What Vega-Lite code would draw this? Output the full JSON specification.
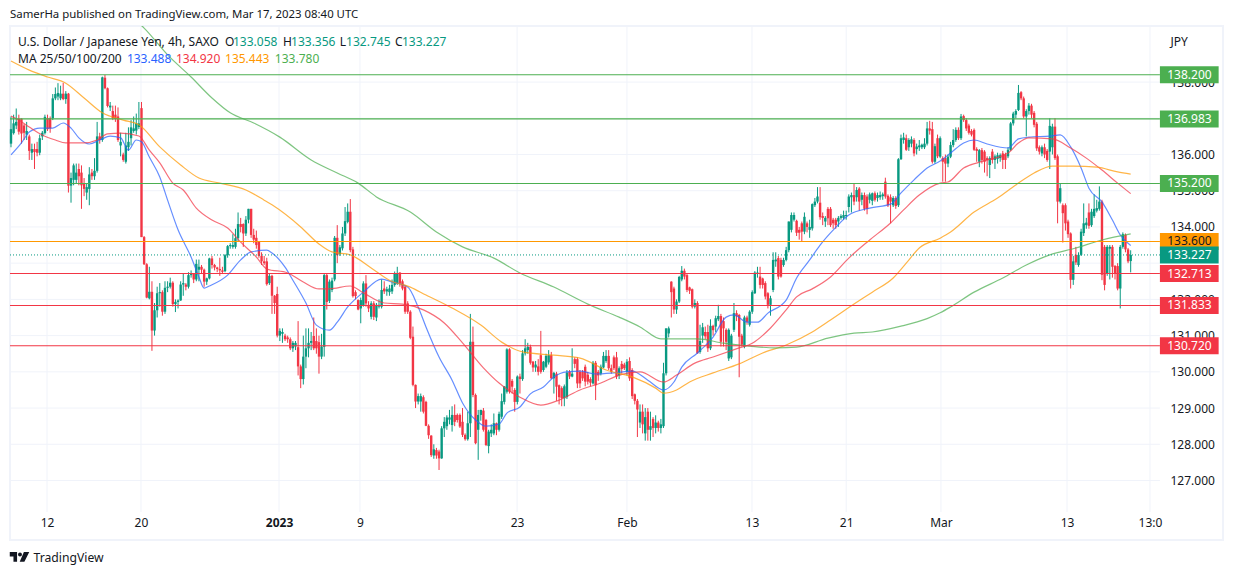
{"$schema":"https://vega.github.io/schema/vega-lite/v6.json","description":"USD/JPY 4h candles with moving averages and support/resistance levels","autosize":"none","width":1213,"height":514,"padding":{"left":10,"top":26,"right":11,"bottom":35},"background":"white","view":{"stroke":"#f0f3fa","strokeWidth":2},"config":{"font":"Noto Sans","text":{"font":"Noto Sans","fontSize":12,"color":"#131722"}},"title":{"text":"SamerHa published on TradingView.com, Mar 17, 2023 08:40 UTC","anchor":"start","frame":"group","offset":5,"fontSize":11.4,"fontWeight":"normal","color":"#131722","font":"Noto Sans"},"datasets":{"candles":[
{"i":0,"o":136.3,"h":137.05,"l":136.2,"c":136.7},{"i":1,"o":136.59,"h":137.1,"l":136.55,"c":136.86},{"i":2,"o":136.8,"h":137.27,"l":136.7,"c":136.9},{"i":3,"o":136.99,"h":137.1,"l":136.55,"c":136.63},{"i":4,"o":136.99,"h":137.0,"l":136.3,"c":136.58},{"i":5,"o":136.8,"h":136.85,"l":136.4,"c":136.6},{"i":6,"o":136.55,"h":136.9,"l":136.4,"c":136.65},{"i":7,"o":136.5,"h":136.55,"l":135.85,"c":136.1},{"i":8,"o":136.05,"h":136.3,"l":135.85,"c":136.15},{"i":9,"o":136.15,"h":136.3,"l":135.6,"c":136.07},
{"i":10,"o":136.15,"h":136.35,"l":135.95,"c":136.05},{"i":11,"o":136.05,"h":136.55,"l":135.98,"c":136.45},{"i":12,"o":136.5,"h":136.65,"l":136.4,"c":136.6},{"i":13,"o":136.59,"h":137.1,"l":136.55,"c":137.04},{"i":14,"o":137.0,"h":137.1,"l":136.65,"c":136.7},{"i":15,"o":137.0,"h":137.05,"l":136.6,"c":136.72},{"i":16,"o":137.0,"h":137.67,"l":136.95,"c":137.55},{"i":17,"o":137.55,"h":137.85,"l":137.5,"c":137.67},{"i":18,"o":137.6,"h":137.97,"l":137.5,"c":137.7},{"i":19,"o":137.55,"h":137.9,"l":137.5,"c":137.68},
{"i":20,"o":137.68,"h":137.98,"l":137.5,"c":137.53},{"i":21,"o":137.53,"h":137.75,"l":137.4,"c":137.68},{"i":22,"o":137.68,"h":137.7,"l":134.95,"c":135.14},{"i":23,"o":135.14,"h":135.5,"l":134.67,"c":135.35},{"i":24,"o":135.3,"h":135.75,"l":135.15,"c":135.7},{"i":25,"o":135.3,"h":135.75,"l":135.2,"c":135.5},{"i":26,"o":135.6,"h":135.75,"l":135.15,"c":135.4},{"i":27,"o":135.5,"h":135.7,"l":134.5,"c":135.15},{"i":28,"o":135.2,"h":135.35,"l":134.85,"c":135.05},{"i":29,"o":134.95,"h":135.2,"l":134.75,"c":135.1},
{"i":30,"o":135.05,"h":135.65,"l":134.6,"c":135.45},{"i":31,"o":135.5,"h":135.6,"l":135.3,"c":135.4},{"i":32,"o":135.4,"h":135.9,"l":135.3,"c":135.55},{"i":33,"o":135.55,"h":136.9,"l":135.5,"c":136.5},{"i":34,"o":136.5,"h":136.6,"l":136.3,"c":136.4},{"i":35,"o":136.4,"h":138.15,"l":136.35,"c":138.13},{"i":36,"o":138.12,"h":138.2,"l":137.8,"c":137.83},{"i":37,"o":137.83,"h":137.85,"l":137.3,"c":137.34},{"i":38,"o":137.3,"h":137.45,"l":137.2,"c":137.35},{"i":39,"o":137.2,"h":137.35,"l":136.95,"c":137.0},
{"i":40,"o":137.1,"h":137.35,"l":136.9,"c":136.98},{"i":41,"o":137.05,"h":137.3,"l":136.35,"c":136.4},{"i":42,"o":136.25,"h":136.6,"l":135.95,"c":136.35},{"i":43,"o":136.0,"h":136.05,"l":135.8,"c":135.85},{"i":44,"o":135.8,"h":136.6,"l":135.75,"c":136.25},{"i":45,"o":136.2,"h":136.75,"l":136.1,"c":136.35},{"i":46,"o":136.45,"h":136.95,"l":136.25,"c":136.75},{"i":47,"o":136.65,"h":137.05,"l":136.6,"c":136.72},{"i":48,"o":136.66,"h":137.13,"l":136.55,"c":136.86},{"i":49,"o":136.76,"h":137.45,"l":136.7,"c":136.86},
{"i":50,"o":137.28,"h":137.45,"l":133.72,"c":133.72},{"i":51,"o":133.72,"h":133.75,"l":132.95,"c":132.97},{"i":52,"o":132.97,"h":133.0,"l":132.03,"c":132.05},{"i":53,"o":132.03,"h":132.9,"l":132.0,"c":132.21},{"i":54,"o":132.21,"h":132.5,"l":130.58,"c":131.14},{"i":55,"o":131.14,"h":131.9,"l":131.0,"c":131.7},{"i":56,"o":131.7,"h":132.35,"l":131.5,"c":132.17},{"i":57,"o":132.17,"h":132.45,"l":131.8,"c":132.2},{"i":58,"o":132.2,"h":132.25,"l":131.55,"c":131.66},{"i":59,"o":131.66,"h":132.5,"l":131.6,"c":132.32},
{"i":60,"o":132.32,"h":132.5,"l":132.2,"c":132.35},{"i":61,"o":132.35,"h":132.6,"l":132.3,"c":132.46},{"i":62,"o":132.46,"h":132.5,"l":131.8,"c":131.87},{"i":63,"o":131.87,"h":132.0,"l":131.65,"c":131.93},{"i":64,"o":131.93,"h":132.0,"l":131.75,"c":131.97},{"i":65,"o":131.97,"h":132.5,"l":131.96,"c":132.41},{"i":66,"o":132.41,"h":132.72,"l":132.1,"c":132.45},{"i":67,"o":132.41,"h":132.45,"l":132.25,"c":132.35},{"i":68,"o":132.35,"h":132.75,"l":132.3,"c":132.67},{"i":69,"o":132.67,"h":132.8,"l":132.6,"c":132.7},
{"i":70,"o":132.7,"h":132.72,"l":132.45,"c":132.55},{"i":71,"o":132.55,"h":133.1,"l":132.5,"c":132.98},{"i":72,"o":132.82,"h":133.1,"l":132.5,"c":132.9},{"i":73,"o":132.9,"h":132.95,"l":132.7,"c":132.82},{"i":74,"o":132.82,"h":132.85,"l":132.35,"c":132.49},{"i":75,"o":132.49,"h":132.6,"l":132.4,"c":132.58},{"i":76,"o":132.58,"h":133.15,"l":132.55,"c":133.13},{"i":77,"o":133.13,"h":133.2,"l":132.85,"c":132.95},{"i":78,"o":132.95,"h":132.98,"l":132.8,"c":132.88},{"i":79,"o":132.88,"h":132.9,"l":132.75,"c":132.84},
{"i":80,"o":132.84,"h":133.15,"l":132.65,"c":132.8},{"i":81,"o":132.8,"h":132.9,"l":132.7,"c":132.76},{"i":82,"o":132.78,"h":133.25,"l":132.75,"c":133.22},{"i":83,"o":133.22,"h":133.5,"l":133.15,"c":133.47},{"i":84,"o":133.47,"h":133.55,"l":133.4,"c":133.5},{"i":85,"o":133.45,"h":133.8,"l":133.4,"c":133.5},{"i":86,"o":133.45,"h":133.95,"l":133.4,"c":133.69},{"i":87,"o":133.69,"h":134.4,"l":133.6,"c":134.08},{"i":88,"o":134.08,"h":134.25,"l":133.85,"c":134.0},{"i":89,"o":134.08,"h":134.1,"l":133.45,"c":133.82},
{"i":90,"o":133.82,"h":134.3,"l":133.75,"c":134.2},{"i":91,"o":134.2,"h":134.5,"l":134.1,"c":134.5},{"i":92,"o":134.5,"h":134.5,"l":133.7,"c":133.78},{"i":93,"o":133.78,"h":133.95,"l":133.55,"c":133.65},{"i":94,"o":133.7,"h":133.9,"l":133.4,"c":133.5},{"i":95,"o":133.6,"h":133.6,"l":133.15,"c":133.2},{"i":96,"o":133.2,"h":133.3,"l":132.95,"c":133.05},{"i":97,"o":133.05,"h":133.2,"l":132.95,"c":133.0},{"i":98,"o":133.05,"h":133.15,"l":132.38,"c":132.42},{"i":99,"o":132.45,"h":132.7,"l":132.4,"c":132.65},
{"i":100,"o":132.65,"h":132.68,"l":131.6,"c":132.1},{"i":101,"o":132.1,"h":132.12,"l":131.6,"c":131.9},{"i":102,"o":132.15,"h":132.35,"l":130.95,"c":131.0},{"i":103,"o":131.0,"h":131.2,"l":130.85,"c":131.13},{"i":104,"o":131.05,"h":131.2,"l":130.8,"c":131.1},{"i":105,"o":131.0,"h":131.05,"l":130.85,"c":130.9},{"i":106,"o":130.95,"h":131.0,"l":130.8,"c":130.9},{"i":107,"o":130.9,"h":130.95,"l":130.6,"c":130.65},{"i":108,"o":130.65,"h":130.85,"l":130.55,"c":130.8},{"i":109,"o":130.7,"h":130.85,"l":130.6,"c":130.8},
{"i":110,"o":130.68,"h":131.4,"l":129.9,"c":130.15},{"i":111,"o":130.15,"h":130.2,"l":129.55,"c":129.8},{"i":112,"o":129.8,"h":131.0,"l":129.65,"c":130.42},{"i":113,"o":130.42,"h":131.2,"l":130.1,"c":130.65},{"i":114,"o":130.65,"h":131.2,"l":130.4,"c":130.8},{"i":115,"o":130.8,"h":131.1,"l":130.6,"c":130.85},{"i":116,"o":130.99,"h":131.5,"l":130.6,"c":130.65},{"i":117,"o":130.85,"h":131.2,"l":130.5,"c":130.65},{"i":118,"o":130.82,"h":131.0,"l":129.95,"c":130.42},{"i":119,"o":130.42,"h":131.05,"l":130.35,"c":130.7},
{"i":120,"o":130.69,"h":132.72,"l":130.42,"c":132.67},{"i":121,"o":132.67,"h":132.72,"l":131.72,"c":131.93},{"i":122,"o":131.96,"h":132.55,"l":131.9,"c":132.49},{"i":123,"o":132.26,"h":132.6,"l":132.2,"c":132.52},{"i":124,"o":132.55,"h":133.75,"l":132.5,"c":133.7},{"i":125,"o":133.7,"h":134.05,"l":133.0,"c":133.22},{"i":126,"o":133.25,"h":133.5,"l":133.2,"c":133.44},{"i":127,"o":133.41,"h":134.0,"l":133.35,"c":133.82},{"i":128,"o":133.82,"h":134.55,"l":133.75,"c":134.16},{"i":129,"o":134.14,"h":134.65,"l":134.1,"c":134.42},
{"i":130,"o":134.42,"h":134.77,"l":133.3,"c":133.36},{"i":131,"o":133.38,"h":133.45,"l":132.05,"c":132.09},{"i":132,"o":132.2,"h":132.25,"l":132.0,"c":132.09},{"i":133,"o":131.98,"h":132.0,"l":131.7,"c":131.72},{"i":134,"o":131.75,"h":132.05,"l":131.34,"c":131.98},{"i":135,"o":131.84,"h":132.5,"l":131.8,"c":132.44},{"i":136,"o":132.44,"h":132.67,"l":131.8,"c":131.89},{"i":137,"o":131.85,"h":131.95,"l":131.65,"c":131.75},{"i":138,"o":131.52,"h":131.95,"l":131.45,"c":131.89},{"i":139,"o":131.89,"h":131.95,"l":131.43,"c":131.52},
{"i":140,"o":131.5,"h":131.9,"l":131.4,"c":131.85},{"i":141,"o":131.8,"h":132.0,"l":131.75,"c":131.85},{"i":142,"o":131.8,"h":132.55,"l":131.75,"c":132.26},{"i":143,"o":132.3,"h":132.5,"l":132.15,"c":132.22},{"i":144,"o":132.22,"h":132.35,"l":132.1,"c":132.28},{"i":145,"o":132.2,"h":132.4,"l":132.1,"c":132.3},{"i":146,"o":132.22,"h":132.55,"l":132.15,"c":132.4},{"i":147,"o":132.4,"h":132.77,"l":132.35,"c":132.72},{"i":148,"o":132.44,"h":132.9,"l":132.4,"c":132.72},{"i":149,"o":132.74,"h":132.75,"l":132.35,"c":132.44},
{"i":150,"o":132.5,"h":132.55,"l":132.25,"c":132.3},{"i":151,"o":132.35,"h":132.4,"l":131.6,"c":131.66},{"i":152,"o":131.89,"h":131.95,"l":131.6,"c":131.66},{"i":153,"o":131.66,"h":131.7,"l":130.9,"c":130.94},{"i":154,"o":130.97,"h":131.25,"l":129.6,"c":129.64},{"i":155,"o":129.64,"h":129.65,"l":129.0,"c":129.18},{"i":156,"o":129.18,"h":129.4,"l":129.1,"c":129.33},{"i":157,"o":129.18,"h":129.4,"l":128.9,"c":129.33},{"i":158,"o":129.3,"h":129.35,"l":128.85,"c":128.9},{"i":159,"o":129.17,"h":129.2,"l":128.5,"c":128.51},
{"i":160,"o":128.51,"h":128.55,"l":128.15,"c":128.25},{"i":161,"o":128.24,"h":128.25,"l":127.65,"c":127.7},{"i":162,"o":127.69,"h":128.0,"l":127.6,"c":127.86},{"i":163,"o":127.84,"h":127.9,"l":127.6,"c":127.69},{"i":164,"o":127.8,"h":127.85,"l":127.29,"c":127.61},{"i":165,"o":127.61,"h":128.5,"l":127.6,"c":128.44},{"i":166,"o":128.44,"h":128.75,"l":128.2,"c":128.62},{"i":167,"o":128.5,"h":128.8,"l":128.4,"c":128.74},{"i":168,"o":128.68,"h":128.95,"l":128.55,"c":128.74},{"i":169,"o":128.53,"h":129.05,"l":128.35,"c":128.81},
{"i":170,"o":128.81,"h":129.1,"l":128.5,"c":128.62},{"i":171,"o":128.81,"h":128.85,"l":128.6,"c":128.67},{"i":172,"o":128.81,"h":128.85,"l":128.45,"c":128.49},{"i":173,"o":128.62,"h":129.0,"l":128.2,"c":128.26},{"i":174,"o":128.26,"h":128.3,"l":128.1,"c":128.14},{"i":175,"o":128.14,"h":128.9,"l":128.1,"c":128.58},{"i":176,"o":128.58,"h":131.6,"l":128.2,"c":130.83},{"i":177,"o":130.83,"h":131.25,"l":129.3,"c":129.36},{"i":178,"o":129.36,"h":129.4,"l":128.0,"c":128.03},{"i":179,"o":128.4,"h":128.95,"l":127.57,"c":128.81},
{"i":180,"o":128.81,"h":128.95,"l":128.65,"c":128.95},{"i":181,"o":128.93,"h":129.0,"l":128.35,"c":128.4},{"i":182,"o":128.67,"h":128.7,"l":127.95,"c":127.98},{"i":183,"o":127.95,"h":128.4,"l":127.75,"c":128.35},{"i":184,"o":128.3,"h":128.55,"l":128.2,"c":128.4},{"i":185,"o":128.3,"h":128.85,"l":128.25,"c":128.58},{"i":186,"o":128.58,"h":128.6,"l":128.25,"c":128.4},{"i":187,"o":128.4,"h":128.9,"l":128.35,"c":128.84},{"i":188,"o":128.76,"h":129.4,"l":128.7,"c":129.19},{"i":189,"o":129.17,"h":129.6,"l":129.1,"c":129.6},
{"i":190,"o":129.45,"h":130.65,"l":129.4,"c":130.62},{"i":191,"o":130.62,"h":130.65,"l":129.4,"c":129.45},{"i":192,"o":129.75,"h":129.8,"l":129.4,"c":129.59},{"i":193,"o":129.5,"h":129.55,"l":128.9,"c":129.17},{"i":194,"o":129.17,"h":129.9,"l":129.1,"c":129.87},{"i":195,"o":129.87,"h":129.95,"l":129.4,"c":129.8},{"i":196,"o":129.8,"h":130.6,"l":129.75,"c":130.51},{"i":197,"o":130.51,"h":130.9,"l":130.45,"c":130.65},{"i":198,"o":130.6,"h":130.8,"l":130.5,"c":130.69},{"i":199,"o":130.69,"h":130.75,"l":130.2,"c":130.25},
{"i":200,"o":130.28,"h":130.3,"l":130.0,"c":130.12},{"i":201,"o":130.12,"h":130.3,"l":130.0,"c":130.2},{"i":202,"o":130.15,"h":130.35,"l":129.9,"c":130.0},{"i":203,"o":130.46,"h":131.13,"l":129.95,"c":130.0},{"i":204,"o":130.05,"h":130.3,"l":130.0,"c":130.28},{"i":205,"o":130.14,"h":130.5,"l":130.1,"c":130.44},{"i":206,"o":130.26,"h":130.6,"l":130.2,"c":130.46},{"i":207,"o":130.46,"h":130.55,"l":129.8,"c":129.82},{"i":208,"o":129.82,"h":130.0,"l":129.4,"c":129.97},{"i":209,"o":129.95,"h":130.0,"l":129.2,"c":129.59},
{"i":210,"o":129.63,"h":129.65,"l":129.1,"c":129.3},{"i":211,"o":129.55,"h":129.6,"l":129.05,"c":129.27},{"i":212,"o":129.27,"h":129.65,"l":129.05,"c":129.6},{"i":213,"o":129.3,"h":130.05,"l":129.25,"c":129.98},{"i":214,"o":130.0,"h":130.05,"l":129.8,"c":129.87},{"i":215,"o":129.87,"h":130.65,"l":129.85,"c":129.95},{"i":216,"o":130.35,"h":130.4,"l":130.1,"c":130.22},{"i":217,"o":130.35,"h":130.4,"l":129.55,"c":129.68},{"i":218,"o":130.0,"h":130.05,"l":129.55,"c":129.68},{"i":219,"o":130.0,"h":130.05,"l":129.75,"c":129.82},
{"i":220,"o":130.14,"h":130.2,"l":129.6,"c":129.73},{"i":221,"o":129.92,"h":130.0,"l":129.65,"c":129.73},{"i":222,"o":129.8,"h":129.85,"l":129.6,"c":129.7},{"i":223,"o":129.68,"h":130.3,"l":129.65,"c":130.25},{"i":224,"o":130.25,"h":130.3,"l":129.22,"c":129.63},{"i":225,"o":130.0,"h":130.05,"l":129.75,"c":129.9},{"i":226,"o":129.95,"h":130.2,"l":129.9,"c":130.14},{"i":227,"o":130.12,"h":130.55,"l":130.1,"c":130.44},{"i":228,"o":130.3,"h":130.6,"l":130.25,"c":130.44},{"i":229,"o":130.44,"h":130.6,"l":130.05,"c":130.1},
{"i":230,"o":130.1,"h":130.2,"l":129.95,"c":130.0},{"i":231,"o":130.4,"h":130.45,"l":130.05,"c":130.1},{"i":232,"o":130.4,"h":130.55,"l":129.8,"c":129.87},{"i":233,"o":129.9,"h":130.15,"l":129.8,"c":130.1},{"i":234,"o":130.22,"h":130.3,"l":129.95,"c":130.08},{"i":235,"o":130.2,"h":130.25,"l":130.05,"c":130.1},{"i":236,"o":130.0,"h":130.35,"l":129.9,"c":130.28},{"i":237,"o":130.3,"h":130.4,"l":129.75,"c":129.82},{"i":238,"o":130.05,"h":130.1,"l":129.25,"c":129.33},{"i":239,"o":129.38,"h":129.4,"l":129.1,"c":129.2},
{"i":240,"o":129.2,"h":129.25,"l":128.2,"c":128.96},{"i":241,"o":128.6,"h":129.1,"l":128.45,"c":128.9},{"i":242,"o":128.9,"h":129.1,"l":128.3,"c":128.55},{"i":243,"o":128.3,"h":129.0,"l":128.1,"c":128.75},{"i":244,"o":128.9,"h":129.0,"l":128.1,"c":128.4},{"i":245,"o":128.4,"h":128.9,"l":128.1,"c":128.5},{"i":246,"o":128.7,"h":128.75,"l":128.2,"c":128.45},{"i":247,"o":128.45,"h":128.8,"l":128.3,"c":128.6},{"i":248,"o":128.6,"h":128.65,"l":128.35,"c":128.45},{"i":249,"o":128.45,"h":128.7,"l":128.3,"c":128.55},
{"i":250,"o":128.5,"h":130.25,"l":128.45,"c":129.96},{"i":251,"o":129.96,"h":131.2,"l":129.9,"c":131.2},{"i":252,"o":131.06,"h":131.25,"l":130.95,"c":131.2},{"i":253,"o":132.49,"h":132.5,"l":131.5,"c":132.2},{"i":254,"o":132.3,"h":132.35,"l":131.6,"c":131.72},{"i":255,"o":131.72,"h":132.0,"l":131.6,"c":131.94},{"i":256,"o":131.94,"h":132.65,"l":131.9,"c":132.62},{"i":257,"o":132.55,"h":132.92,"l":132.5,"c":132.79},{"i":258,"o":132.79,"h":132.85,"l":132.55,"c":132.63},{"i":259,"o":132.67,"h":132.7,"l":132.2,"c":132.26},
{"i":260,"o":132.33,"h":132.35,"l":132.15,"c":132.24},{"i":261,"o":132.28,"h":132.3,"l":131.75,"c":131.8},{"i":262,"o":131.8,"h":132.0,"l":131.75,"c":131.9},{"i":263,"o":131.9,"h":131.95,"l":130.5,"c":130.51},{"i":264,"o":130.55,"h":131.3,"l":130.5,"c":130.85},{"i":265,"o":131.0,"h":131.35,"l":130.8,"c":131.23},{"i":266,"o":131.1,"h":131.25,"l":130.9,"c":130.98},{"i":267,"o":131.1,"h":131.3,"l":130.55,"c":130.65},{"i":268,"o":130.65,"h":131.45,"l":130.6,"c":131.27},{"i":269,"o":131.27,"h":131.3,"l":131.0,"c":131.15},
{"i":270,"o":131.25,"h":131.55,"l":131.1,"c":131.48},{"i":271,"o":131.45,"h":131.85,"l":131.4,"c":131.54},{"i":272,"o":131.54,"h":131.6,"l":130.7,"c":130.83},{"i":273,"o":131.4,"h":131.5,"l":130.7,"c":131.2},{"i":274,"o":131.16,"h":131.2,"l":130.6,"c":130.83},{"i":275,"o":130.37,"h":131.2,"l":130.3,"c":131.16},{"i":276,"o":130.4,"h":131.05,"l":130.35,"c":131.0},{"i":277,"o":131.16,"h":131.9,"l":131.1,"c":131.62},{"i":278,"o":131.62,"h":131.7,"l":131.4,"c":131.53},{"i":279,"o":131.57,"h":131.6,"l":129.85,"c":130.97},
{"i":280,"o":131.0,"h":131.05,"l":130.7,"c":130.75},{"i":281,"o":130.7,"h":131.55,"l":130.65,"c":131.5},{"i":282,"o":131.5,"h":131.55,"l":131.3,"c":131.38},{"i":283,"o":131.3,"h":131.7,"l":131.25,"c":131.66},{"i":284,"o":131.66,"h":132.25,"l":131.6,"c":132.2},{"i":285,"o":132.17,"h":132.78,"l":132.15,"c":132.74},{"i":286,"o":132.7,"h":132.9,"l":132.6,"c":132.74},{"i":287,"o":132.63,"h":132.9,"l":132.3,"c":132.4},{"i":288,"o":132.58,"h":132.6,"l":132.3,"c":132.4},{"i":289,"o":132.45,"h":132.5,"l":132.0,"c":132.08},
{"i":290,"o":132.17,"h":132.2,"l":131.75,"c":131.85},{"i":291,"o":131.85,"h":132.1,"l":131.55,"c":132.03},{"i":292,"o":132.26,"h":133.3,"l":132.2,"c":133.09},{"i":293,"o":133.05,"h":133.3,"l":132.9,"c":133.1},{"i":294,"o":133.14,"h":133.2,"l":132.55,"c":132.63},{"i":295,"o":133.09,"h":133.15,"l":132.6,"c":132.63},{"i":296,"o":132.95,"h":133.15,"l":132.9,"c":133.09},{"i":297,"o":133.09,"h":133.45,"l":133.05,"c":133.36},{"i":298,"o":133.36,"h":134.15,"l":133.3,"c":134.15},{"i":299,"o":133.92,"h":134.4,"l":133.85,"c":134.33},
{"i":300,"o":134.2,"h":134.4,"l":134.15,"c":134.33},{"i":301,"o":134.17,"h":134.2,"l":133.75,"c":133.84},{"i":302,"o":133.92,"h":134.0,"l":133.65,"c":133.84},{"i":303,"o":134.1,"h":134.15,"l":133.6,"c":133.87},{"i":304,"o":133.87,"h":134.4,"l":133.8,"c":134.28},{"i":305,"o":134.1,"h":134.15,"l":133.85,"c":134.0},{"i":306,"o":133.92,"h":134.2,"l":133.7,"c":134.0},{"i":307,"o":133.96,"h":134.65,"l":133.9,"c":134.63},{"i":308,"o":134.6,"h":134.8,"l":134.55,"c":134.7},{"i":309,"o":134.7,"h":135.1,"l":134.65,"c":134.84},
{"i":310,"o":134.67,"h":135.1,"l":134.2,"c":134.27},{"i":311,"o":134.3,"h":134.4,"l":134.05,"c":134.25},{"i":312,"o":134.15,"h":134.3,"l":134.0,"c":134.25},{"i":313,"o":134.5,"h":134.55,"l":134.05,"c":134.24},{"i":314,"o":134.5,"h":134.55,"l":134.0,"c":134.05},{"i":315,"o":134.2,"h":134.25,"l":133.95,"c":134.1},{"i":316,"o":134.2,"h":134.25,"l":133.95,"c":134.05},{"i":317,"o":134.15,"h":134.3,"l":134.0,"c":134.25},{"i":318,"o":134.25,"h":134.35,"l":134.2,"c":134.3},{"i":319,"o":134.25,"h":134.45,"l":134.2,"c":134.33},
{"i":320,"o":134.3,"h":134.45,"l":134.2,"c":134.33},{"i":321,"o":134.55,"h":134.9,"l":134.4,"c":134.84},{"i":322,"o":134.82,"h":134.95,"l":134.4,"c":134.88},{"i":323,"o":134.88,"h":135.2,"l":134.6,"c":134.7},{"i":324,"o":134.82,"h":135.1,"l":134.7,"c":135.02},{"i":325,"o":135.06,"h":135.1,"l":134.45,"c":134.7},{"i":326,"o":134.75,"h":134.95,"l":134.6,"c":134.88},{"i":327,"o":134.88,"h":134.95,"l":134.45,"c":134.5},{"i":328,"o":134.84,"h":134.9,"l":134.35,"c":134.5},{"i":329,"o":134.75,"h":134.95,"l":134.65,"c":134.9},
{"i":330,"o":134.72,"h":134.95,"l":134.6,"c":134.93},{"i":331,"o":134.93,"h":134.98,"l":134.7,"c":134.75},{"i":332,"o":134.8,"h":134.95,"l":134.7,"c":134.88},{"i":333,"o":134.82,"h":134.98,"l":134.75,"c":134.88},{"i":334,"o":134.85,"h":134.95,"l":134.75,"c":134.9},{"i":335,"o":135.25,"h":135.36,"l":134.78,"c":134.84},{"i":336,"o":134.86,"h":134.9,"l":134.55,"c":134.6},{"i":337,"o":134.82,"h":134.9,"l":134.1,"c":134.7},{"i":338,"o":134.6,"h":134.85,"l":134.55,"c":134.8},{"i":339,"o":134.8,"h":134.85,"l":134.5,"c":134.58},
{"i":340,"o":134.6,"h":135.9,"l":134.55,"c":135.87},{"i":341,"o":135.87,"h":136.55,"l":135.85,"c":136.45},{"i":342,"o":136.4,"h":136.6,"l":136.3,"c":136.47},{"i":343,"o":136.45,"h":136.55,"l":136.1,"c":136.13},{"i":344,"o":136.2,"h":136.45,"l":136.1,"c":136.4},{"i":345,"o":136.3,"h":136.5,"l":136.2,"c":136.42},{"i":346,"o":136.4,"h":136.45,"l":135.95,"c":136.03},{"i":347,"o":136.15,"h":136.3,"l":136.0,"c":136.22},{"i":348,"o":136.2,"h":136.4,"l":136.1,"c":136.25},{"i":349,"o":136.2,"h":136.3,"l":136.15,"c":136.27},
{"i":350,"o":136.2,"h":136.45,"l":136.15,"c":136.3},{"i":351,"o":136.3,"h":136.9,"l":136.25,"c":136.72},{"i":352,"o":136.72,"h":136.93,"l":136.55,"c":136.66},{"i":353,"o":136.7,"h":136.9,"l":135.75,"c":135.8},{"i":354,"o":135.8,"h":136.3,"l":135.75,"c":136.23},{"i":355,"o":136.45,"h":136.55,"l":135.9,"c":135.95},{"i":356,"o":135.94,"h":136.5,"l":135.9,"c":136.45},{"i":357,"o":135.9,"h":135.95,"l":135.25,"c":135.8},{"i":358,"o":135.9,"h":136.0,"l":135.25,"c":135.75},{"i":359,"o":135.75,"h":136.0,"l":135.65,"c":135.94},
{"i":360,"o":135.94,"h":136.35,"l":135.9,"c":136.26},{"i":361,"o":136.26,"h":136.7,"l":136.2,"c":136.4},{"i":362,"o":136.4,"h":136.75,"l":136.35,"c":136.68},{"i":363,"o":136.68,"h":136.75,"l":136.4,"c":136.45},{"i":364,"o":136.45,"h":137.12,"l":136.4,"c":137.05},{"i":365,"o":137.06,"h":137.1,"l":136.9,"c":136.95},{"i":366,"o":136.95,"h":137.0,"l":136.65,"c":136.72},{"i":367,"o":136.8,"h":136.85,"l":136.55,"c":136.6},{"i":368,"o":136.65,"h":136.7,"l":136.5,"c":136.55},{"i":369,"o":136.68,"h":136.72,"l":136.1,"c":136.13},
{"i":370,"o":136.15,"h":136.2,"l":135.8,"c":136.1},{"i":371,"o":135.8,"h":136.15,"l":135.65,"c":136.12},{"i":372,"o":136.12,"h":136.18,"l":135.75,"c":135.85},{"i":373,"o":136.08,"h":136.12,"l":135.5,"c":135.8},{"i":374,"o":135.9,"h":135.95,"l":135.4,"c":135.85},{"i":375,"o":135.71,"h":135.95,"l":135.35,"c":135.9},{"i":376,"o":136.08,"h":136.15,"l":135.75,"c":135.85},{"i":377,"o":135.85,"h":136.0,"l":135.6,"c":135.95},{"i":378,"o":135.88,"h":136.05,"l":135.75,"c":135.98},{"i":379,"o":135.9,"h":136.03,"l":135.8,"c":135.98},
{"i":380,"o":136.03,"h":136.1,"l":135.6,"c":135.85},{"i":381,"o":136.0,"h":136.05,"l":135.6,"c":135.85},{"i":382,"o":135.95,"h":136.2,"l":135.9,"c":136.13},{"i":383,"o":136.13,"h":136.9,"l":136.1,"c":136.86},{"i":384,"o":136.86,"h":137.18,"l":136.8,"c":137.13},{"i":385,"o":137.1,"h":137.25,"l":137.0,"c":137.2},{"i":386,"o":137.23,"h":137.92,"l":137.2,"c":137.7},{"i":387,"o":137.72,"h":137.75,"l":137.5,"c":137.55},{"i":388,"o":137.55,"h":137.6,"l":137.0,"c":137.05},{"i":389,"o":137.05,"h":137.25,"l":136.5,"c":137.2},
{"i":390,"o":137.2,"h":137.42,"l":137.1,"c":137.35},{"i":391,"o":137.35,"h":137.4,"l":137.0,"c":137.1},{"i":392,"o":137.15,"h":137.2,"l":136.75,"c":136.82},{"i":393,"o":136.85,"h":136.9,"l":136.1,"c":136.17},{"i":394,"o":136.2,"h":136.25,"l":136.0,"c":136.08},{"i":395,"o":136.03,"h":136.25,"l":135.95,"c":136.2},{"i":396,"o":136.2,"h":136.3,"l":135.9,"c":136.0},{"i":397,"o":136.1,"h":136.15,"l":135.8,"c":135.85},{"i":398,"o":136.08,"h":137.0,"l":135.6,"c":136.79},{"i":399,"o":136.2,"h":136.85,"l":136.0,"c":136.77},
{"i":400,"o":136.77,"h":137.0,"l":135.85,"c":135.9},{"i":401,"o":135.95,"h":136.0,"l":134.1,"c":134.7},{"i":402,"o":134.7,"h":135.2,"l":134.65,"c":135.07},{"i":403,"o":134.6,"h":134.65,"l":133.57,"c":134.38},{"i":404,"o":134.6,"h":134.65,"l":133.9,"c":134.1},{"i":405,"o":134.15,"h":134.2,"l":133.7,"c":133.8},{"i":406,"o":133.82,"h":133.85,"l":132.3,"c":132.54},{"i":407,"o":132.54,"h":133.2,"l":132.4,"c":133.05},{"i":408,"o":133.23,"h":133.45,"l":132.95,"c":133.02},{"i":409,"o":132.95,"h":133.3,"l":132.9,"c":133.23},
{"i":410,"o":133.23,"h":133.95,"l":133.2,"c":133.87},{"i":411,"o":133.83,"h":134.65,"l":133.75,"c":134.1},{"i":412,"o":134.05,"h":134.25,"l":133.95,"c":134.12},{"i":413,"o":134.4,"h":134.65,"l":133.95,"c":134.03},{"i":414,"o":134.05,"h":134.5,"l":134.0,"c":134.42},{"i":415,"o":134.3,"h":134.9,"l":134.25,"c":134.5},{"i":416,"o":134.45,"h":134.75,"l":134.4,"c":134.52},{"i":417,"o":134.5,"h":135.12,"l":134.45,"c":134.7},{"i":418,"o":134.7,"h":134.75,"l":132.53,"c":132.68},{"i":419,"o":133.45,"h":133.5,"l":132.25,"c":132.4},
{"i":420,"o":132.72,"h":133.5,"l":132.65,"c":133.45},{"i":421,"o":133.4,"h":133.5,"l":132.55,"c":133.45},{"i":422,"o":133.45,"h":133.5,"l":132.6,"c":132.9},{"i":423,"o":132.92,"h":132.95,"l":132.55,"c":132.72},{"i":424,"o":132.92,"h":133.0,"l":132.25,"c":132.3},{"i":425,"o":132.3,"h":133.5,"l":131.75,"c":133.45},{"i":426,"o":133.45,"h":133.85,"l":133.4,"c":133.8},{"i":427,"o":133.78,"h":133.82,"l":133.3,"c":133.38},{"i":428,"o":133.38,"h":133.42,"l":133.0,"c":133.05},{"i":429,"o":133.058,"h":133.356,"l":132.745,"c":133.227}
],"ma":[
{"m":"25","i":0,"p":135.99},{"m":"25","i":4,"p":136.32},{"m":"25","i":7,"p":136.62},{"m":"25","i":11,"p":136.73},{"m":"25","i":16,"p":136.73},{"m":"25","i":20,"p":136.87},{"m":"25","i":23,"p":136.73},{"m":"25","i":26,"p":136.46},{"m":"25","i":30,"p":136.29},{"m":"25","i":34,"p":136.4},{"m":"25","i":38,"p":136.51},{"m":"25","i":42,"p":136.46},{"m":"25","i":45,"p":136.12},{"m":"25","i":48,"p":136.4},{"m":"25","i":50,"p":136.35},{"m":"25","i":53,"p":135.93},{"m":"25","i":57,"p":135.38},{"m":"25","i":60,"p":134.74},{"m":"25","i":64,"p":133.92},{"m":"25","i":69,"p":133.17},{"m":"25","i":72,"p":132.62},{"m":"25","i":74,"p":132.31},{"m":"25","i":76,"p":132.37},{"m":"25","i":83,"p":132.67},{"m":"25","i":88,"p":133.09},{"m":"25","i":92,"p":133.31},{"m":"25","i":98,"p":133.36},{"m":"25","i":100,"p":133.28},{"m":"25","i":105,"p":132.89},{"m":"25","i":108,"p":132.53},{"m":"25","i":113,"p":131.9},{"m":"25","i":117,"p":131.29},{"m":"25","i":122,"p":131.15},{"m":"25","i":125,"p":131.37},{"m":"25","i":129,"p":131.79},{"m":"25","i":135,"p":132.2},{"m":"25","i":142,"p":132.56},{"m":"25","i":146,"p":132.48},{"m":"25","i":152,"p":132.34},{"m":"25","i":156,"p":131.79},{"m":"25","i":159,"p":131.24},{"m":"25","i":164,"p":130.41},{"m":"25","i":169,"p":129.77},{"m":"25","i":173,"p":129.14},{"m":"25","i":178,"p":128.67},{"m":"25","i":182,"p":128.5},{"m":"25","i":187,"p":128.56},{"m":"25","i":190,"p":128.86},{"m":"25","i":195,"p":129.03},{"m":"25","i":199,"p":129.39},{"m":"25","i":204,"p":129.58},{"m":"25","i":208,"p":129.86},{"m":"25","i":213,"p":130.0},{"m":"25","i":218,"p":130.02},{"m":"25","i":224,"p":129.94},{"m":"25","i":231,"p":129.97},{"m":"25","i":238,"p":130.02},{"m":"25","i":244,"p":129.77},{"m":"25","i":250,"p":129.5},{"m":"25","i":254,"p":129.72},{"m":"25","i":257,"p":130.13},{"m":"25","i":263,"p":130.52},{"m":"25","i":269,"p":130.96},{"m":"25","i":274,"p":131.51},{"m":"25","i":277,"p":131.57},{"m":"25","i":282,"p":131.37},{"m":"25","i":286,"p":131.37},{"m":"25","i":290,"p":131.62},{"m":"25","i":297,"p":131.98},{"m":"25","i":301,"p":132.59},{"m":"25","i":306,"p":133.09},{"m":"25","i":310,"p":133.5},{"m":"25","i":316,"p":133.99},{"m":"25","i":321,"p":134.33},{"m":"25","i":329,"p":134.52},{"m":"25","i":337,"p":134.63},{"m":"25","i":341,"p":134.94},{"m":"25","i":346,"p":135.3},{"m":"25","i":351,"p":135.63},{"m":"25","i":356,"p":135.82},{"m":"25","i":360,"p":136.04},{"m":"25","i":365,"p":136.32},{"m":"25","i":369,"p":136.4},{"m":"25","i":374,"p":136.29},{"m":"25","i":382,"p":136.18},{"m":"25","i":386,"p":136.43},{"m":"25","i":390,"p":136.48},{"m":"25","i":398,"p":136.51},{"m":"25","i":402,"p":136.54},{"m":"25","i":406,"p":136.21},{"m":"25","i":410,"p":135.63},{"m":"25","i":413,"p":135.07},{"m":"25","i":418,"p":134.69},{"m":"25","i":422,"p":134.19},{"m":"25","i":425,"p":133.78},{"m":"25","i":429,"p":133.49},
{"m":"50","i":0,"p":137.06},{"m":"50","i":3,"p":136.95},{"m":"50","i":7,"p":136.76},{"m":"50","i":12,"p":136.54},{"m":"50","i":17,"p":136.4},{"m":"50","i":21,"p":136.32},{"m":"50","i":28,"p":136.32},{"m":"50","i":33,"p":136.4},{"m":"50","i":37,"p":136.57},{"m":"50","i":42,"p":136.59},{"m":"50","i":49,"p":136.51},{"m":"50","i":53,"p":136.12},{"m":"50","i":57,"p":135.77},{"m":"50","i":62,"p":135.21},{"m":"50","i":66,"p":135.02},{"m":"50","i":71,"p":134.52},{"m":"50","i":77,"p":134.19},{"m":"50","i":83,"p":133.97},{"m":"50","i":88,"p":133.58},{"m":"50","i":94,"p":133.17},{"m":"50","i":98,"p":132.84},{"m":"50","i":106,"p":132.73},{"m":"50","i":112,"p":132.48},{"m":"50","i":118,"p":132.29},{"m":"50","i":122,"p":132.29},{"m":"50","i":130,"p":132.37},{"m":"50","i":135,"p":132.18},{"m":"50","i":143,"p":131.9},{"m":"50","i":150,"p":131.87},{"m":"50","i":158,"p":131.71},{"m":"50","i":166,"p":131.35},{"m":"50","i":173,"p":130.8},{"m":"50","i":181,"p":130.11},{"m":"50","i":187,"p":129.69},{"m":"50","i":195,"p":129.3},{"m":"50","i":203,"p":129.08},{"m":"50","i":210,"p":129.22},{"m":"50","i":218,"p":129.5},{"m":"50","i":226,"p":129.69},{"m":"50","i":233,"p":129.91},{"m":"50","i":241,"p":130.0},{"m":"50","i":250,"p":129.72},{"m":"50","i":255,"p":129.91},{"m":"50","i":262,"p":130.24},{"m":"50","i":269,"p":130.41},{"m":"50","i":279,"p":130.66},{"m":"50","i":284,"p":130.79},{"m":"50","i":291,"p":131.21},{"m":"50","i":297,"p":131.71},{"m":"50","i":301,"p":132.07},{"m":"50","i":307,"p":132.29},{"m":"50","i":314,"p":132.62},{"m":"50","i":321,"p":133.14},{"m":"50","i":329,"p":133.64},{"m":"50","i":337,"p":134.11},{"m":"50","i":342,"p":134.47},{"m":"50","i":348,"p":134.88},{"m":"50","i":356,"p":135.21},{"m":"50","i":359,"p":135.24},{"m":"50","i":365,"p":135.63},{"m":"50","i":371,"p":135.79},{"m":"50","i":382,"p":136.04},{"m":"50","i":386,"p":136.32},{"m":"50","i":390,"p":136.46},{"m":"50","i":399,"p":136.43},{"m":"50","i":406,"p":136.18},{"m":"50","i":412,"p":135.9},{"m":"50","i":418,"p":135.57},{"m":"50","i":424,"p":135.21},{"m":"50","i":429,"p":134.92},
{"m":"100","i":0,"p":138.58},{"m":"100","i":7,"p":138.33},{"m":"100","i":14,"p":138.14},{"m":"100","i":21,"p":137.97},{"m":"100","i":28,"p":137.56},{"m":"100","i":35,"p":137.15},{"m":"100","i":43,"p":136.95},{"m":"100","i":49,"p":136.82},{"m":"100","i":57,"p":136.21},{"m":"100","i":65,"p":135.71},{"m":"100","i":72,"p":135.35},{"m":"100","i":80,"p":135.21},{"m":"100","i":90,"p":135.02},{"m":"100","i":97,"p":134.74},{"m":"100","i":100,"p":134.61},{"m":"100","i":111,"p":134.0},{"m":"100","i":118,"p":133.53},{"m":"100","i":123,"p":133.31},{"m":"100","i":130,"p":133.23},{"m":"100","i":138,"p":132.87},{"m":"100","i":145,"p":132.53},{"m":"100","i":153,"p":132.34},{"m":"100","i":159,"p":132.12},{"m":"100","i":169,"p":131.76},{"m":"100","i":180,"p":131.29},{"m":"100","i":188,"p":130.82},{"m":"100","i":196,"p":130.55},{"m":"100","i":208,"p":130.46},{"m":"100","i":218,"p":130.38},{"m":"100","i":228,"p":130.05},{"m":"100","i":238,"p":129.86},{"m":"100","i":247,"p":129.55},{"m":"100","i":250,"p":129.41},{"m":"100","i":255,"p":129.5},{"m":"100","i":260,"p":129.72},{"m":"100","i":269,"p":129.97},{"m":"100","i":279,"p":130.22},{"m":"100","i":288,"p":130.52},{"m":"100","i":297,"p":130.74},{"m":"100","i":307,"p":131.1},{"m":"100","i":314,"p":131.43},{"m":"100","i":323,"p":131.87},{"m":"100","i":330,"p":132.2},{"m":"100","i":338,"p":132.59},{"m":"100","i":343,"p":133.0},{"m":"100","i":348,"p":133.42},{"m":"100","i":356,"p":133.69},{"m":"100","i":360,"p":133.86},{"m":"100","i":369,"p":134.41},{"m":"100","i":378,"p":134.8},{"m":"100","i":385,"p":135.16},{"m":"100","i":392,"p":135.49},{"m":"100","i":399,"p":135.68},{"m":"100","i":407,"p":135.68},{"m":"100","i":416,"p":135.65},{"m":"100","i":424,"p":135.52},{"m":"100","i":429,"p":135.46},
{"m":"200","i":47,"p":139.75},{"m":"200","i":51,"p":139.49},{"m":"200","i":60,"p":138.75},{"m":"200","i":69,"p":138.14},{"m":"200","i":77,"p":137.56},{"m":"200","i":84,"p":137.15},{"m":"200","i":93,"p":136.87},{"m":"200","i":103,"p":136.48},{"m":"200","i":115,"p":135.85},{"m":"200","i":125,"p":135.49},{"m":"200","i":133,"p":135.21},{"m":"200","i":140,"p":134.83},{"m":"200","i":153,"p":134.41},{"m":"200","i":163,"p":133.86},{"m":"200","i":173,"p":133.45},{"m":"200","i":185,"p":133.14},{"m":"200","i":195,"p":132.73},{"m":"200","i":208,"p":132.34},{"m":"200","i":221,"p":131.87},{"m":"200","i":233,"p":131.51},{"m":"200","i":241,"p":131.24},{"m":"200","i":249,"p":130.91},{"m":"200","i":263,"p":130.91},{"m":"200","i":273,"p":130.79},{"m":"200","i":283,"p":130.71},{"m":"200","i":293,"p":130.66},{"m":"200","i":301,"p":130.68},{"m":"200","i":313,"p":130.93},{"m":"200","i":323,"p":131.07},{"m":"200","i":330,"p":131.1},{"m":"200","i":341,"p":131.26},{"m":"200","i":351,"p":131.47},{"m":"200","i":356,"p":131.63},{"m":"200","i":360,"p":131.79},{"m":"200","i":369,"p":132.2},{"m":"200","i":380,"p":132.59},{"m":"200","i":389,"p":132.95},{"m":"200","i":398,"p":133.23},{"m":"200","i":408,"p":133.42},{"m":"200","i":418,"p":133.64},{"m":"200","i":429,"p":133.81}
],"levels":[{"p":138.2,"kind":"resistance","label":"138.200"},{"p":136.983,"kind":"resistance","label":"136.983"},{"p":135.2,"kind":"resistance","label":"135.200"},{"p":133.6,"kind":"pivot","label":"133.600"},{"p":132.713,"kind":"support","label":"132.713"},{"p":131.833,"kind":"support","label":"131.833"},{"p":130.72,"kind":"support","label":"130.720"}],"tags":[{"p":138.2,"kind":"resistance","label":"138.200"},{"p":136.983,"kind":"resistance","label":"136.983"},{"p":135.2,"kind":"resistance","label":"135.200"},{"p":133.6,"kind":"pivot","label":"133.600"},{"p":133.227,"kind":"last","label":"133.227"},{"p":132.713,"kind":"support","label":"132.713"},{"p":131.833,"kind":"support","label":"131.833"},{"p":130.72,"kind":"support","label":"130.720"}]},
"resolve":{"scale":{"color":"independent"}},
"layer":[
{"data":{"values":[{"p":127},{"p":128},{"p":129},{"p":130},{"p":131},{"p":132},{"p":133},{"p":134},{"p":135},{"p":136},{"p":137},{"p":138}]},"mark":{"type":"rule","color":"#f0f3fa","strokeWidth":1},"encoding":{"y":{"field":"p","type":"quantitative","scale":{"domain":[125.357,139.548],"nice":false,"zero":false},"axis":{"orient":"right","title":null,"values":[127,128,129,130,131,132,134,135,136,138],"format":".3f","labelAlign":"left","labelPadding":-53,"labelFontSize":12,"labelColor":"#131722","labelFont":"Noto Sans","labelOverlap":false,"labelFlush":false,"labelBound":false,"ticks":false,"domain":false,"grid":false}},"x":{"datum":-0.38,"type":"quantitative","scale":{"domain":[-0.383,464.37],"nice":false,"zero":false},"axis":{"title":"TradingView","titleAnchor":"start","titleAlign":"left","titleBaseline":"middle","titleX":23,"titleY":17,"titleFontSize":12.2,"titleFontWeight":"normal","titleColor":"#131722","titleFont":"Noto Sans","values":[13.8,49.8,102.7,133.7,193.9,236,283.9,320,356.3,404.6,436.4],"labelExpr":"{'13.8':'12','49.8':'20','102.7':'2023','133.7':'9','193.9':'23','236':'Feb','283.9':'13','320':'21','356.3':'Mar','404.6':'13','436.4':'13:0'}[datum.value]","labelPadding":-23,"labelFontSize":12,"labelColor":"#131722","labelFont":"Noto Sans","labelFontWeight":{"condition":{"test":"datum.value==102.7","value":"bold"},"value":"normal"},"labelOverlap":false,"labelFlush":false,"labelBound":false,"ticks":false,"domain":false,"grid":false}},"x2":{"datum":440.2}}},
{"data":{"values":[{"i":13.8},{"i":49.8},{"i":102.7},{"i":133.7},{"i":193.9},{"i":236},{"i":283.9},{"i":320},{"i":356.3},{"i":404.6},{"i":436.4}]},"mark":{"type":"rule","color":"#f0f3fa","strokeWidth":1},"encoding":{"x":{"field":"i","type":"quantitative"},"y":{"datum":139.548,"type":"quantitative"},"y2":{"datum":126.13}}},
{"data":{"name":"candles"},"mark":{"type":"rule","strokeWidth":1},"encoding":{"x":{"field":"i","type":"quantitative"},"y":{"field":"h","type":"quantitative"},"y2":{"field":"l"},"color":{"condition":{"test":"datum.c>=datum.o","value":"#089981"},"value":"#f23645"}}},
{"data":{"name":"candles"},"mark":{"type":"rule","strokeWidth":2.4},"encoding":{"x":{"field":"i","type":"quantitative"},"y":{"field":"o","type":"quantitative"},"y2":{"field":"c"},"color":{"condition":{"test":"datum.c>=datum.o","value":"#089981"},"value":"#f23645"}}},
{"data":{"name":"ma"},"mark":{"type":"line","strokeWidth":1.2,"opacity":0.72,"clip":true,"interpolate":"monotone"},"encoding":{"x":{"field":"i","type":"quantitative"},"y":{"field":"p","type":"quantitative"},"color":{"field":"m","type":"nominal","scale":{"domain":["25","50","100","200"],"range":["#2962ff","#f23645","#ff9800","#4caf50"]},"legend":null}}},
{"data":{"values":[{"p":133.227}]},"mark":{"type":"rule","color":"#089981","strokeWidth":1,"strokeDash":[1,2]},"encoding":{"y":{"field":"p","type":"quantitative"},"x":{"datum":-0.38,"type":"quantitative"},"x2":{"datum":440.2}}},
{"data":{"name":"levels"},"mark":{"type":"rule","strokeWidth":1.1},"encoding":{"y":{"field":"p","type":"quantitative"},"x":{"datum":-0.38,"type":"quantitative"},"x2":{"datum":440.2},"color":{"field":"kind","type":"nominal","scale":{"domain":["resistance","pivot","support","last"],"range":["#4caf50","#ff9800","#f23645","#089981"]},"legend":null}}},
{"data":{"name":"tags"},"mark":{"type":"rule","strokeWidth":17},"encoding":{"y":{"field":"p","type":"quantitative"},"x":{"datum":440.2,"type":"quantitative"},"x2":{"datum":462.7},"color":{"field":"kind","type":"nominal","scale":{"domain":["resistance","pivot","support","last"],"range":["#4caf50","#ff9800","#f23645","#089981"]},"legend":null}}},
{"data":{"name":"tags"},"mark":{"type":"text","align":"center","baseline":"middle","fontSize":12},"encoding":{"y":{"field":"p","type":"quantitative"},"x":{"datum":451.5,"type":"quantitative"},"text":{"field":"label"},"color":{"condition":{"test":"datum.kind=='pivot'","value":"#131722"},"value":"#ffffff"}}},
{"data":{"values":[{}]},"mark":{"type":"text","text":"JPY","align":"center","baseline":"middle"},"encoding":{"x":{"datum":447.6,"type":"quantitative"},"y":{"datum":139.115,"type":"quantitative"}}},
{"data":{"values":[{}]},"mark":{"type":"text","text":"U.S. Dollar / Japanese Yen, 4h, SAXO","align":"left","baseline":"middle"},"encoding":{"x":{"datum":2.68,"type":"quantitative"},"y":{"datum":139.115,"type":"quantitative"}}},
{"data":{"values":[{}]},"mark":{"type":"text","text":"O","align":"left","baseline":"middle"},"encoding":{"x":{"datum":82,"type":"quantitative"},"y":{"datum":139.115,"type":"quantitative"}}},
{"data":{"values":[{}]},"mark":{"type":"text","text":"133.058","align":"left","baseline":"middle","color":"#089981"},"encoding":{"x":{"datum":85.06,"type":"quantitative"},"y":{"datum":139.115,"type":"quantitative"}}},
{"data":{"values":[{}]},"mark":{"type":"text","text":"H","align":"left","baseline":"middle"},"encoding":{"x":{"datum":104.2,"type":"quantitative"},"y":{"datum":139.115,"type":"quantitative"}}},
{"data":{"values":[{}]},"mark":{"type":"text","text":"133.356","align":"left","baseline":"middle","color":"#089981"},"encoding":{"x":{"datum":107.3,"type":"quantitative"},"y":{"datum":139.115,"type":"quantitative"}}},
{"data":{"values":[{}]},"mark":{"type":"text","text":"L","align":"left","baseline":"middle"},"encoding":{"x":{"datum":126,"type":"quantitative"},"y":{"datum":139.115,"type":"quantitative"}}},
{"data":{"values":[{}]},"mark":{"type":"text","text":"132.745","align":"left","baseline":"middle","color":"#089981"},"encoding":{"x":{"datum":128.4,"type":"quantitative"},"y":{"datum":139.115,"type":"quantitative"}}},
{"data":{"values":[{}]},"mark":{"type":"text","text":"C","align":"left","baseline":"middle"},"encoding":{"x":{"datum":147.1,"type":"quantitative"},"y":{"datum":139.115,"type":"quantitative"}}},
{"data":{"values":[{}]},"mark":{"type":"text","text":"133.227","align":"left","baseline":"middle","color":"#089981"},"encoding":{"x":{"datum":149.8,"type":"quantitative"},"y":{"datum":139.115,"type":"quantitative"}}},
{"data":{"values":[{}]},"mark":{"type":"text","text":"MA 25/50/100/200","align":"left","baseline":"middle"},"encoding":{"x":{"datum":2.68,"type":"quantitative"},"y":{"datum":138.645,"type":"quantitative"}}},
{"data":{"values":[{}]},"mark":{"type":"text","text":"133.488","align":"left","baseline":"middle","color":"#2962ff"},"encoding":{"x":{"datum":44.4,"type":"quantitative"},"y":{"datum":138.645,"type":"quantitative"}}},
{"data":{"values":[{}]},"mark":{"type":"text","text":"134.920","align":"left","baseline":"middle","color":"#f23645"},"encoding":{"x":{"datum":63.2,"type":"quantitative"},"y":{"datum":138.645,"type":"quantitative"}}},
{"data":{"values":[{}]},"mark":{"type":"text","text":"135.443","align":"left","baseline":"middle","color":"#ff9800"},"encoding":{"x":{"datum":82,"type":"quantitative"},"y":{"datum":138.645,"type":"quantitative"}}},
{"data":{"values":[{}]},"mark":{"type":"text","text":"133.780","align":"left","baseline":"middle","color":"#4caf50"},"encoding":{"x":{"datum":101.1,"type":"quantitative"},"y":{"datum":138.645,"type":"quantitative"}}},
{"data":{"values":[{}]},"mark":{"type":"point","filled":true,"size":380,"opacity":1,"color":"#131722","strokeWidth":0,"shape":"M-1 -.5H-.25V.5H-.62V-.05H-1Z M.05 -.45a.2 .2 0 1 0 .001 0Z M.45 -.5H1L.5 .5H.02Z"},"encoding":{"x":{"datum":3.26,"type":"quantitative"},"y":{"datum":124.89,"type":"quantitative"}}}
]}
